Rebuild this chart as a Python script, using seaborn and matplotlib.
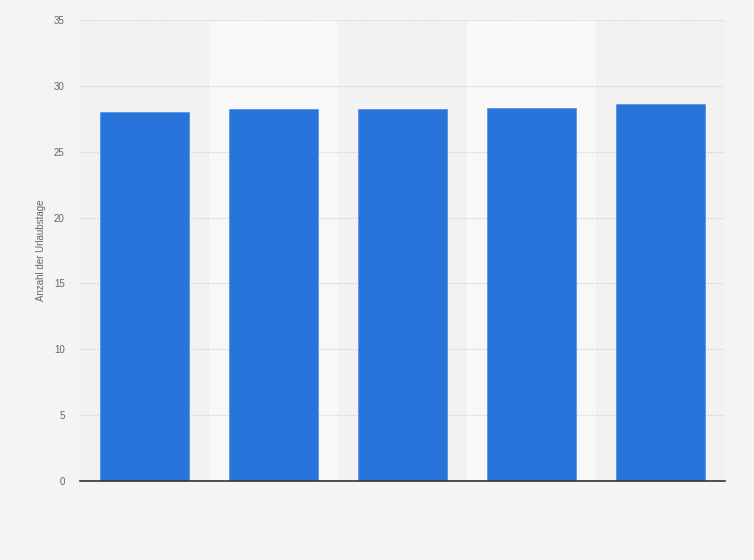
import pandas as pd
import matplotlib.pyplot as plt
import seaborn as sns

# Werte (Kategorien ohne sichtbare Beschriftung)
kategorien = ["A", "B", "C", "D", "E"]
urlaubstage = [28.0, 28.25, 28.25, 28.3, 28.6]
y_ticks = [0, 5, 10, 15, 20, 25, 30, 35]

df = pd.DataFrame({"Kategorie": kategorien, "Tage": urlaubstage})

sns.set_theme(style="white")
plt.rcParams["font.family"] = ["Liberation Sans", "DejaVu Sans"]

fig = plt.figure(figsize=(7.54, 5.60), dpi=100, facecolor="#f4f4f4")
ax = fig.add_axes([80 / 754, 1 - 481 / 560, 645 / 754, 461 / 560])
ax.set_facecolor("#f2f2f2")

# hellere Spalten im Hintergrund
for i in range(len(kategorien)):
    if i % 2 == 1:
        ax.axvspan(i - 0.5, i + 0.5, color="#f8f8f8", zorder=0, lw=0)

sns.barplot(data=df, x="Kategorie", y="Tage", color="#2775db", saturation=1,
            width=0.69, ax=ax, zorder=3, edgecolor="#5a95e6", linewidth=0.6)

ax.set_xlim(-0.5, len(kategorien) - 0.5)
ax.set_ylim(0, 35)
ax.set_yticks(y_ticks)
ax.set_yticklabels([str(t) for t in y_ticks], color="#666666", fontsize=7)
ax.tick_params(axis="y", length=0, pad=11)
ax.set_xticks([])
ax.set_xlabel("")
ax.set_ylabel("Anzahl der Urlaubstage", fontsize=7, color="#666666", labelpad=6)

ax.grid(axis="y", linestyle=(0, (1, 1.5)), color="#c8c8c8", linewidth=0.8, zorder=1)
ax.set_axisbelow(True)

for s in ["top", "right", "left"]:
    ax.spines[s].set_visible(False)
ax.spines["bottom"].set_color("#333333")
ax.spines["bottom"].set_linewidth(1.2)
ax.spines["bottom"].set_zorder(5)

fig.savefig("out.png", dpi=100, facecolor=fig.get_facecolor())
